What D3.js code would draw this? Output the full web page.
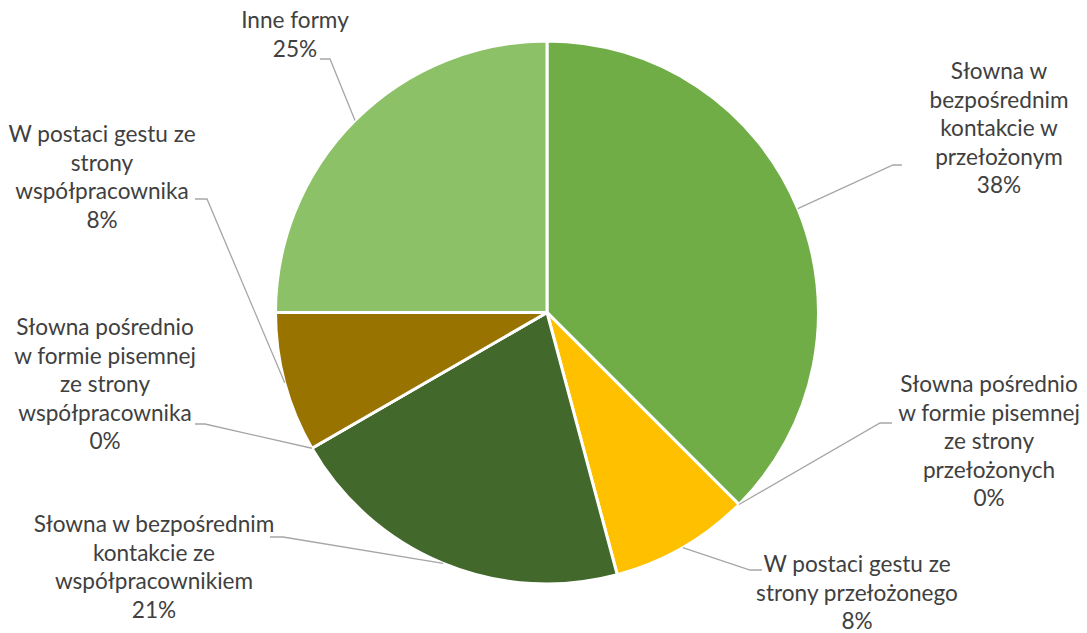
<!DOCTYPE html>
<html>
<head>
<meta charset="utf-8">
<script src="https://cdn.jsdelivr.net/npm/d3@7"></script>
<style>
  html, body { margin: 0; padding: 0; background: #ffffff; }
  svg { display: block; }
  text { font-family: "Lato", "Open Sans", sans-serif; fill: #404040; }
</style>
</head>
<body>
<svg id="chart" width="1087" height="633"></svg>
<script>
// Forms of feedback (respondent counts)
const categories = [
  "Słowna w bezpośrednim kontakcie w przełożonym",
  "Słowna pośrednio w formie pisemnej ze strony przełożonych",
  "W postaci gestu ze strony przełożonego",
  "Słowna w bezpośrednim kontakcie ze współpracownikiem",
  "Słowna pośrednio w formie pisemnej ze strony współpracownika",
  "W postaci gestu ze strony współpracownika",
  "Inne formy"
];
const counts = [9, 0, 2, 5, 0, 2, 6];

// Line breaks used in the data labels
const labelLines = [
  ["Słowna w", "bezpośrednim", "kontakcie w", "przełożonym"],
  ["Słowna pośrednio", "w formie pisemnej", "ze strony", "przełożonych"],
  ["W postaci gestu ze", "strony przełożonego"],
  ["Słowna w bezpośrednim", "kontakcie ze", "współpracownikiem"],
  ["Słowna pośrednio", "w formie pisemnej", "ze strony", "współpracownika"],
  ["W postaci gestu ze", "strony", "współpracownika"],
  ["Inne formy"]
];

const colors = ["#70AD47", "#FFC000", "#FFC000", "#43682B", "#997300", "#997300", "#8CC168"];

// Label placement: text centre x, first baseline y, leader elbow and end
const labelLayout = [
  { x: 999, y: 79,  elbow: [893, 165], end: 902 },
  { x: 989, y: 392, elbow: [880, 423], end: 892 },
  { x: 857, y: 572, elbow: [750, 570], end: 762 },
  { x: 154, y: 532, elbow: [283, 537], end: 270 },
  { x: 105, y: 335, elbow: [205, 424], end: 195 },
  { x: 102, y: 142, elbow: [207, 199], end: 195 },
  { x: 295, y: 28,  elbow: [330, 59],  end: 320 }
];

const width = 1087, height = 633;
const cx = 547, cy = 312.5, radius = 271.5;
const lineHeight = 28.6;

const svg = d3.select("#chart");
const g = svg.append("g").attr("transform", `translate(${cx},${cy})`);

const total = d3.sum(counts);
const pct = d3.format(".0%");

const pie = d3.pie().sort(null).value(d => d)(counts);
const arc = d3.arc().innerRadius(0).outerRadius(radius);
const edge = d3.arc().innerRadius(radius).outerRadius(radius);

g.selectAll("path.slice")
  .data(pie)
  .join("path")
  .attr("class", "slice")
  .attr("d", arc)
  .attr("fill", (d, i) => colors[i])
  .attr("stroke", "#ffffff")
  .attr("stroke-width", 3)
  .attr("stroke-linejoin", "round");

// Leader lines from the slice edge to each label
const line = d3.line();
svg.selectAll("path.leader")
  .data(pie)
  .join("path")
  .attr("class", "leader")
  .attr("d", (d, i) => {
    const [px, py] = edge.centroid(d);
    const L = labelLayout[i];
    return line([[cx + px, cy + py], L.elbow, [L.end, L.elbow[1]]]);
  })
  .attr("fill", "none")
  .attr("stroke", "#A6A6A6")
  .attr("stroke-width", 1.3);

// Data labels: category name and percentage
const labels = svg.selectAll("text.label")
  .data(pie)
  .join("text")
  .attr("class", "label")
  .attr("text-anchor", "middle")
  .attr("font-size", 22.6);

labels.each(function (d, i) {
  const L = labelLayout[i];
  const rows = labelLines[i].concat([pct(d.data / total)]);
  d3.select(this).selectAll("tspan")
    .data(rows)
    .join("tspan")
    .attr("x", L.x)
    .attr("y", (r, k) => L.y + k * lineHeight)
    .text(r => r);
});
</script>
</body>
</html>
